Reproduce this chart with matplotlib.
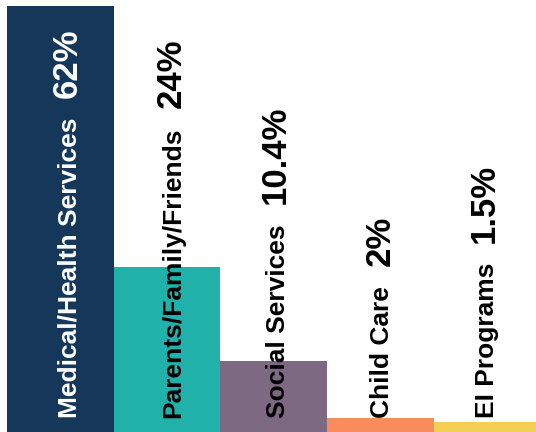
import numpy as np
import matplotlib.pyplot as plt
from matplotlib import transforms

categories = ['Medical/Health Services', 'Parents/Family/Friends', 'Social Services',
              'Child Care', 'EI Programs']
values = [62, 24, 10.4, 2, 1.5]
pct_labels = ['62%', '24%', '10.4%', '2%', '1.5%']
colors = ['#14375A', '#20B2AA', '#7E6983', '#F98C5C', '#F2CE55']
text_colors = ['white', 'black', 'black', 'black', 'black']

plt.rcParams['font.family'] = ['Liberation Sans', 'DejaVu Sans']

fig = plt.figure(figsize=(5.36, 4.32), dpi=100)
ax = fig.add_axes([7 / 536, 0, 533.5 / 536, 1])

ind = np.arange(len(values))
ax.bar(ind, values, width=1.0, color=colors)
ax.set_xlim(-0.5, len(values) - 0.5)
ax.set_ylim(0, 62 / 426 * 432)
ax.axis('off')

# x in data, y in axes fraction
trans = transforms.blended_transform_factory(ax.transData, ax.transAxes)

labels = []
for i, cat in enumerate(categories):
    x = i + 0.15 - 0.022 * i
    t = ax.text(x, 14 / 432, cat, transform=trans, rotation=90, rotation_mode='anchor',
                ha='left', va='baseline', fontsize=19, fontweight='bold',
                color=text_colors[i])
    labels.append((x, t))

fig.canvas.draw()
renderer = fig.canvas.get_renderer()
for i, (x, t) in enumerate(labels):
    bb = t.get_window_extent(renderer)
    y_top = (bb.y1 + 20) / fig.bbox.height
    ax.text(x, y_top, pct_labels[i], transform=trans, rotation=90, rotation_mode='anchor',
            ha='left', va='baseline', fontsize=25, fontweight='bold',
            color=text_colors[i])

fig.savefig('out.png', dpi=100)
